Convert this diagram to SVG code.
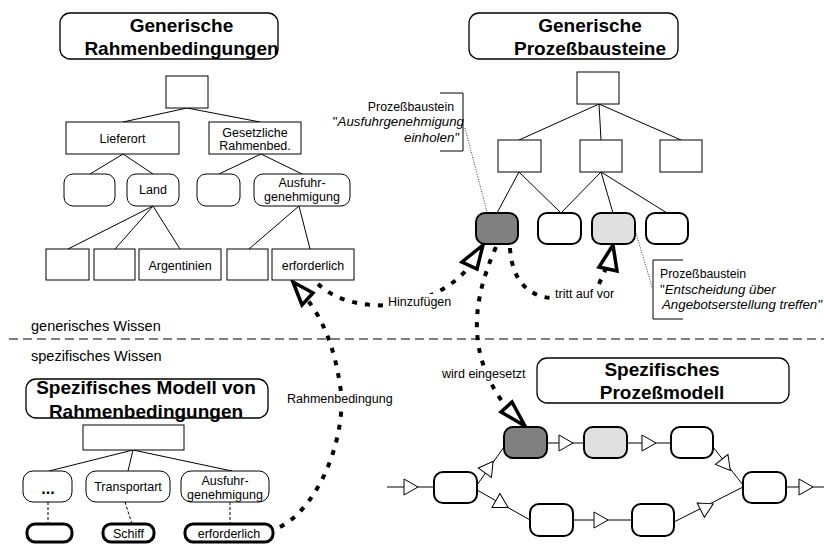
<svg xmlns="http://www.w3.org/2000/svg" xmlns:xlink="http://www.w3.org/1999/xlink" width="824" height="544" viewBox="0 0 824 544">
<style>
text{font-family:"Liberation Sans",Arial,sans-serif;fill:#000}
.t{font-size:12.5px;text-anchor:middle}
.title{font-size:19px;font-weight:bold;text-anchor:middle}
.lbl{font-size:12.5px}
.it{font-size:13.3px;font-style:italic}
.ann{font-size:12.3px}
.box{fill:#fff;stroke:#000;stroke-width:1}
.tb{fill:#fff;stroke:#000;stroke-width:1.3}
.rb{fill:#fff;stroke:#000;stroke-width:1}
.rb2{fill:#fff;stroke:#000;stroke-width:2}
.rb3{fill:#fff;stroke:#000;stroke-width:3}
.dark{fill:#808080}
.light{fill:#e0e0e0}
.ln{stroke:#000;stroke-width:1;fill:none}
.dl{stroke:#000;stroke-width:1;fill:none;stroke-dasharray:3 2}
.dot{stroke:#000;stroke-width:0.8;fill:none;stroke-dasharray:1 1.5}
.big{stroke:#000;stroke-width:4;fill:none;stroke-dasharray:5 8}
.ah{fill:#fff;stroke:#000;stroke-width:3.5;stroke-linejoin:miter}
.bg{fill:#fff}
</style>
<defs>
<path id="tri" d="M-7,-8 L7,0 L-7,8 Z" fill="#fff" stroke="#000" stroke-width="1"/>
</defs>

<!-- separator -->
<g id="separator">
<line x1="9" y1="339" x2="824" y2="339" stroke="#000" stroke-width="1.2" stroke-dasharray="9 5"/>
<text x="31" y="331" font-size="14.5px">generisches Wissen</text>
<text x="31" y="361" font-size="14.5px">spezifisches Wissen</text>
</g>

<!-- tree connectors -->
<g id="connectors">
<!-- top-left tree -->
<path class="ln" d="M187,108 L123,122 M187,108 L260,122"/>
<path class="ln" d="M123,154 L90,174 M123,154 L153,174"/>
<path class="ln" d="M261,154 L219,174 M261,154 L302,174"/>
<path class="ln" d="M153,206 L68,249 M153,206 L115,249 M153,206 L180,249"/>
<path class="ln" d="M299,206 L249,249 M299,206 L310,249"/>
<!-- top-right tree -->
<path class="ln" d="M599,104 L519,140 M599,104 L601,140 M599,104 L681,140"/>
<path class="ln" d="M519,172 L497,213 M519,172 L561,213"/>
<path class="ln" d="M601,172 L561,213 M601,172 L613,213 M601,172 L667,213"/>
<!-- bottom-left tree -->
<path class="ln" d="M133,450 L49,471 M133,450 L128,471 M133,450 L232,471"/>
<path class="dl" d="M48,502 L48,524 M125,502 L132,524 M230,502 L230,524"/>
<!-- process model -->
<path class="ln" d="M387,487 H434 M477,485 L504,447 M477,490 L530,520 M547,443 H584 M627,443 H671 M713,447 L743,485 M573,520 H632 M674,522 L743,487 M786,487 H824"/>
<use xlink:href="#tri" href="#tri" transform="translate(411,487)"/>
<use xlink:href="#tri" href="#tri" transform="translate(489,467) rotate(-54.6)"/>
<use xlink:href="#tri" href="#tri" transform="translate(502,504) rotate(29.5)"/>
<use xlink:href="#tri" href="#tri" transform="translate(566,443)"/>
<use xlink:href="#tri" href="#tri" transform="translate(649,443)"/>
<use xlink:href="#tri" href="#tri" transform="translate(726,465) rotate(51.7)"/>
<use xlink:href="#tri" href="#tri" transform="translate(601,520)"/>
<use xlink:href="#tri" href="#tri" transform="translate(707,507) rotate(-26.9)"/>
<use xlink:href="#tri" href="#tri" transform="translate(806,487)"/>
<!-- annotation dotted leaders -->
<path class="dot" d="M465,128 L487,212"/>
<path class="dot" d="M636,233 L652,287"/>
<!-- big dotted arrows -->
<path class="big" d="M280,527 C322,505 348,430 340,385 C334,345 322,318 306,298"/>
<polygon class="ah" points="293,282 302,305 313,293"/>
<path class="big" d="M318,284 C350,315 430,315 470,266"/>
<polygon class="ah" points="483,245 462,262 477,269"/>
<path class="big" d="M510,248 C512,282 530,297 552,298"/>
<path class="big" d="M599,284 L606,268"/>
<polygon class="ah" points="613,245 599,267 617,271"/>
<path class="big" d="M496,247 C468,310 470,360 507,408"/>
<polygon class="ah" points="525,426 501,412 512,402"/>
<!-- labels on arrows -->
<rect class="bg" x="386" y="294" width="64" height="13"/>
<text class="lbl" x="388" y="306">Hinzufügen</text>
<text class="lbl" x="555" y="297.5">tritt auf vor</text>
<rect class="bg" x="440" y="366" width="89" height="14"/>
<text class="lbl" x="442" y="377.5">wird eingesetzt</text>
<rect class="bg" x="285" y="392" width="108" height="14"/>
<text class="lbl" x="287" y="403">Rahmenbedingung</text>
</g>

<!-- top-left: generic constraints -->
<g id="title-generische-rahmenbedingungen">
<rect class="tb" x="60" y="13" width="218" height="46" rx="10"/>
<text class="title" x="181.5" y="31.5">Generische</text>
<text class="title" x="181.5" y="54.5">Rahmenbedingungen</text>
</g>
<g id="gr-root"><rect class="box" x="166" y="76" width="42" height="32"/></g>
<g id="gr-lieferort"><rect class="box" x="66" y="122" width="113" height="32"/><text class="t" x="122.5" y="142.5">Lieferort</text></g>
<g id="gr-gesetzlich"><rect class="box" x="209" y="122" width="92" height="32"/><text class="t" x="255" y="136.5">Gesetzliche</text><text class="t" x="255" y="150">Rahmenbed.</text></g>
<g id="gr-r1"><rect class="rb" x="64" y="174" width="51" height="32" rx="9"/></g>
<g id="gr-land"><rect class="rb" x="127" y="174" width="52" height="32" rx="9"/><text class="t" x="153" y="193.5">Land</text></g>
<g id="gr-r3"><rect class="rb" x="197" y="174" width="43" height="32" rx="9"/></g>
<g id="gr-ausfuhr"><rect class="rb" x="254" y="174" width="96" height="32" rx="9"/><text class="t" x="302" y="186.5">Ausfuhr-</text><text class="t" x="302" y="201">genehmigung</text></g>
<g id="gr-b1"><rect class="box" x="46" y="249" width="43" height="31"/></g>
<g id="gr-b2"><rect class="box" x="94" y="249" width="41" height="31"/></g>
<g id="gr-argentinien"><rect class="box" x="139" y="249" width="82" height="31"/><text class="t" x="180" y="269.5">Argentinien</text></g>
<g id="gr-b4"><rect class="box" x="227" y="249" width="41" height="31"/></g>
<g id="gr-erforderlich"><rect class="box" x="272" y="249" width="82" height="31"/><text class="t" x="313" y="269.5">erforderlich</text></g>

<!-- top-right: generic process blocks -->
<g id="title-generische-prozessbausteine">
<rect class="tb" x="469" y="13" width="209" height="46" rx="10"/>
<text class="title" x="590" y="31.5">Generische</text>
<text class="title" x="590" y="54.5">Prozeßbausteine</text>
</g>
<g id="gp-root"><rect class="box" x="577" y="72" width="42" height="32"/></g>
<g id="gp-a"><rect class="box" x="498" y="140" width="43" height="32"/></g>
<g id="gp-b"><rect class="box" x="580" y="140" width="42" height="32"/></g>
<g id="gp-c"><rect class="box" x="660" y="140" width="42" height="32"/></g>
<g id="gp-ausfuhr-einholen"><rect class="rb2 dark" x="476" y="213" width="42" height="31" rx="9"/></g>
<g id="gp-w1"><rect class="rb2" x="538" y="213" width="43" height="31" rx="9"/></g>
<g id="gp-entscheidung"><rect class="rb2 light" x="592" y="213" width="43" height="31" rx="9"/></g>
<g id="gp-w2"><rect class="rb2" x="646" y="213" width="42" height="31" rx="9"/></g>
<g id="annotation-1">
<path class="ln" d="M440,93 H463 V151 H440"/>
<text class="ann" x="454" y="111" text-anchor="end">Prozeßbaustein</text>
<text class="it" x="464" y="126" text-anchor="end"><tspan font-style="normal">"</tspan>Ausfuhrgenehmigung</text>
<text class="it" x="459" y="141.5" text-anchor="end">einholen"</text>
</g>
<g id="annotation-2">
<path class="ln" d="M683,260 H653 V319 H683"/>
<text class="ann" x="660" y="278">Prozeßbaustein</text>
<text class="it" x="660" y="293.5"><tspan font-style="normal">"</tspan>Entscheidung über</text>
<text class="it" x="662" y="308.5">Angebotserstellung treffen"</text>
</g>

<!-- bottom-left: specific constraint model -->
<g id="title-spezifisches-modell">
<rect class="tb" x="26" y="379" width="242" height="39" rx="10"/>
<text class="title" x="146" y="393.5">Spezifisches Modell von</text>
<text class="title" x="146" y="417.5">Rahmenbedingungen</text>
</g>
<g id="sm-root"><rect class="box" x="83" y="425" width="101" height="25"/></g>
<g id="sm-dots"><rect class="rb" x="23" y="471" width="49" height="31" rx="10"/><text x="48" y="494" font-size="16px" font-weight="bold" text-anchor="middle">...</text></g>
<g id="sm-transportart"><rect class="rb" x="86" y="471" width="84" height="31" rx="10"/><text class="t" x="128" y="491">Transportart</text></g>
<g id="sm-ausfuhr"><rect class="rb" x="181" y="471" width="88" height="31" rx="10"/><text class="t" x="225" y="484.5">Ausfuhr-</text><text class="t" x="225" y="499">genehmigung</text></g>
<g id="sm-v1"><rect class="rb3" x="27" y="524" width="45" height="18" rx="8"/></g>
<g id="sm-schiff"><rect class="rb3" x="103" y="524" width="51" height="18" rx="8"/><text class="t" x="128.5" y="537.5">Schiff</text></g>
<g id="sm-erforderlich"><rect class="rb3" x="185" y="524" width="88" height="18" rx="8"/><text class="t" x="229" y="538">erforderlich</text></g>

<!-- bottom-right: specific process model -->
<g id="title-spezifisches-prozessmodell">
<rect class="tb" x="537" y="358" width="252" height="45" rx="10"/>
<text class="title" x="662" y="375.5">Spezifisches</text>
<text class="title" x="662" y="398.5">Prozeßmodell</text>
</g>
<g id="pm-start"><rect class="rb2" x="434" y="472" width="43" height="31" rx="9"/></g>
<g id="pm-ausfuhr"><rect class="rb2 dark" x="504" y="427" width="43" height="31" rx="9"/></g>
<g id="pm-entscheidung"><rect class="rb2 light" x="584" y="427" width="43" height="31" rx="9"/></g>
<g id="pm-n3"><rect class="rb2" x="671" y="427" width="42" height="31" rx="9"/></g>
<g id="pm-end"><rect class="rb2" x="743" y="472" width="43" height="31" rx="9"/></g>
<g id="pm-b1"><rect class="rb2" x="530" y="504" width="43" height="32" rx="9"/></g>
<g id="pm-b2"><rect class="rb2" x="632" y="504" width="42" height="32" rx="9"/></g>
</svg>
